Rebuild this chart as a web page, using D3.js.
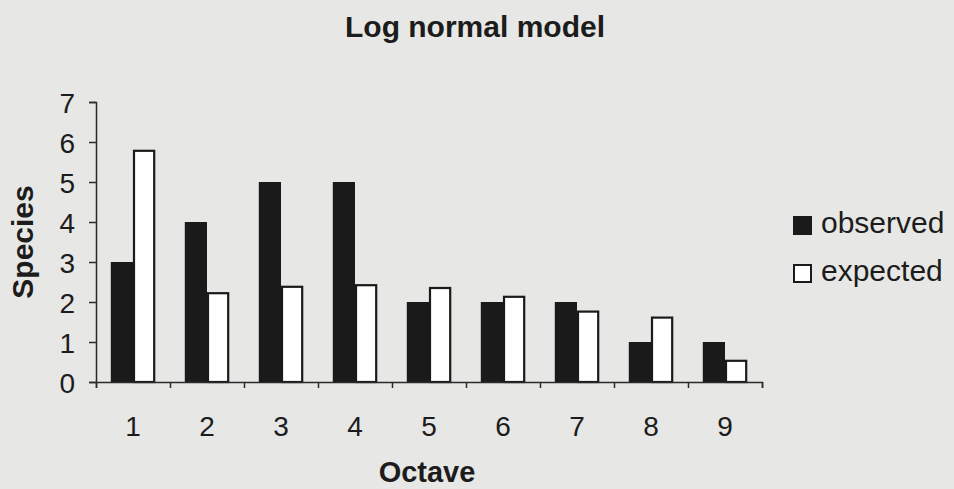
<!DOCTYPE html>
<html>
<head>
<meta charset="utf-8">
<script src="https://cdn.jsdelivr.net/npm/d3@7"></script>
<style>
  body { margin: 0; background: #e7e7e5; }
  text { font-family: "Liberation Sans", Arial, sans-serif; fill: #1c1c1c; }
</style>
</head>
<body>
<div id="main"></div>
<script>
const octaves = [1, 2, 3, 4, 5, 6, 7, 8, 9];
const observed = [3, 4, 5, 5, 2, 2, 2, 1, 1];
const expected = [5.78, 2.22, 2.38, 2.42, 2.35, 2.13, 1.76, 1.61, 0.53];
const seriesNames = ["observed", "expected"];
const yTicks = [0, 1, 2, 3, 4, 5, 6, 7];

const ctx = {
    WIDTH: 954,
    HEIGHT: 489,
    left: 96,
    right: 762,
    top: 102,
    bottom: 382,
};

const colors = { observed: "#1a1a1a", expected: "#ffffff" };

function createViz(){
    let svgEl = d3.select("#main").append("svg")
        .attr("width", ctx.WIDTH)
        .attr("height", ctx.HEIGHT);

    svgEl.append("rect")
        .attr("width", ctx.WIDTH).attr("height", ctx.HEIGHT)
        .attr("fill", "#e7e7e5");

    let x0 = d3.scaleBand().domain(octaves)
        .range([ctx.left, ctx.right])
        .paddingInner(0.4).paddingOuter(0.2);
    let x1 = d3.scaleBand().domain(seriesNames).range([0, x0.bandwidth()]);
    let xEdge = d3.scaleLinear().domain([0, octaves.length]).range([ctx.left, ctx.right]);
    let y = d3.scaleLinear().domain([0, 7]).range([ctx.bottom, ctx.top]);

    // bars
    let rows = octaves.map((o, i) => ({ octave: o, observed: observed[i], expected: expected[i] }));
    let groups = svgEl.append("g").selectAll("g")
        .data(rows).enter().append("g")
        .attr("transform", d => `translate(${x0(d.octave)},0)`);
    groups.selectAll("rect")
        .data(d => seriesNames.map(k => ({ key: k, value: d[k] })))
        .enter().append("rect")
        .attr("x", d => x1(d.key) + (d.key === "expected" ? 1 : 0))
        .attr("y", d => y(d.value))
        .attr("width", d => x1.bandwidth() - (d.key === "expected" ? 2 : 0))
        .attr("height", d => y(0) - y(d.value))
        .attr("fill", d => colors[d.key])
        .attr("stroke", d => d.key === "expected" ? "#1a1a1a" : "none")
        .attr("stroke-width", 2.2);

    // y axis
    let yAxis = svgEl.append("g")
        .attr("transform", `translate(${ctx.left},0)`)
        .call(d3.axisLeft(y).tickValues(yTicks).tickSize(7).tickPadding(14).tickFormat(d3.format("d")));
    yAxis.selectAll("text").style("font-size", "28px").attr("dy", "0.36em");

    // x axis: ticks on category boundaries
    svgEl.append("g")
        .attr("transform", `translate(0,${ctx.bottom})`)
        .call(d3.axisBottom(xEdge).ticks(octaves.length).tickSize(6).tickFormat(""));
    // x axis labels at category centres
    let xLab = svgEl.append("g")
        .attr("transform", `translate(0,${ctx.bottom})`)
        .call(d3.axisBottom(x0).tickSize(0).tickPadding(48));
    xLab.select(".domain").remove();
    xLab.selectAll("text").style("font-size", "28px").attr("dy", "0.2em");

    svgEl.selectAll(".domain, .tick line")
        .attr("stroke", "#2a2a2a").attr("stroke-width", 1.5);

    // titles
    svgEl.append("text")
        .attr("x", 475).attr("y", 37)
        .attr("text-anchor", "middle")
        .style("font-size", "30px").style("font-weight", "bold")
        .text("Log normal model");

    svgEl.append("text")
        .attr("x", 427).attr("y", 482)
        .attr("text-anchor", "middle")
        .style("font-size", "29px").style("font-weight", "bold")
        .text("Octave");

    svgEl.append("text")
        .attr("transform", "translate(33,242) rotate(-90)")
        .attr("text-anchor", "middle")
        .style("font-size", "30px").style("font-weight", "bold")
        .text("Species");

    // legend
    let legend = svgEl.append("g").attr("transform", "translate(793,216)");
    let items = legend.selectAll("g").data(seriesNames).enter().append("g")
        .attr("transform", (d, i) => `translate(0,${i * 48})`);
    items.append("rect")
        .attr("x", 1).attr("y", 1)
        .attr("width", 17).attr("height", 17)
        .attr("fill", d => colors[d])
        .attr("stroke", "#1a1a1a").attr("stroke-width", 2);
    items.append("text")
        .attr("x", 28).attr("y", 17)
        .style("font-size", "30px")
        .text(d => d);
}

createViz();
</script>
</body>
</html>
